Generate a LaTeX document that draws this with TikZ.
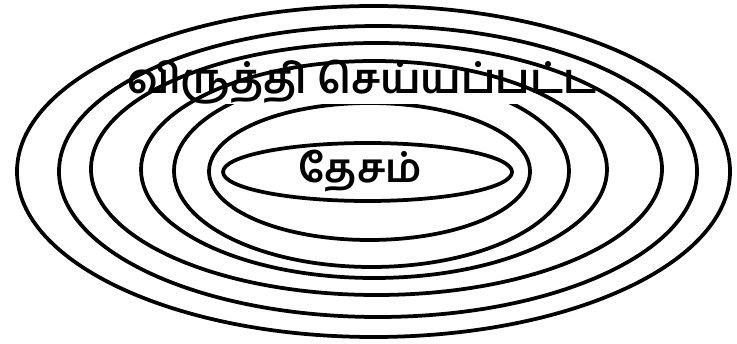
\documentclass[tikz,border=0pt]{standalone}
\usepackage{fontspec}
\usepackage{tikz}
\newfontfamily\tamilfont[Script=Tamil]{Hind Madurai}

\begin{document}
\begin{tikzpicture}[x=0.03cm, y=-0.03cm,
    ring/.style={draw=black, line width=3.2pt},
    tamiltext/.style={font=\tamilfont\bfseries\fontsize{#1}{#1}\selectfont, inner sep=0pt}
]
  \useasboundingbox (0,0) rectangle (737,344);

  % innere Ringe
  \draw[ring] (371.5,171) ellipse (197.5 and 96);
  \draw[ring] (369.5,171.5) ellipse (160.5 and 68.5);
  \draw[ring] (367.5,172) ellipse (144.5 and 29);

  % Beschriftung oben (deckt den Ring ab)
  \node[tamiltext=35, fill=white] (developed) at (362,82) {விருத்தி செய்யப்பட்ட};

  % äussere Ringe
  \draw[ring] (373.5,171.5) ellipse (356.5 and 165.5);
  \draw[ring] (378,171.5) ellipse (319 and 145.5);
  \draw[ring] (376.5,169) ellipse (285.5 and 126);
  \draw[ring] (374,169.5) ellipse (233 and 108.5);

  % Kern
  \node[tamiltext=34] (nation) at (360,171) {தேசம்};

\end{tikzpicture}
\end{document}
